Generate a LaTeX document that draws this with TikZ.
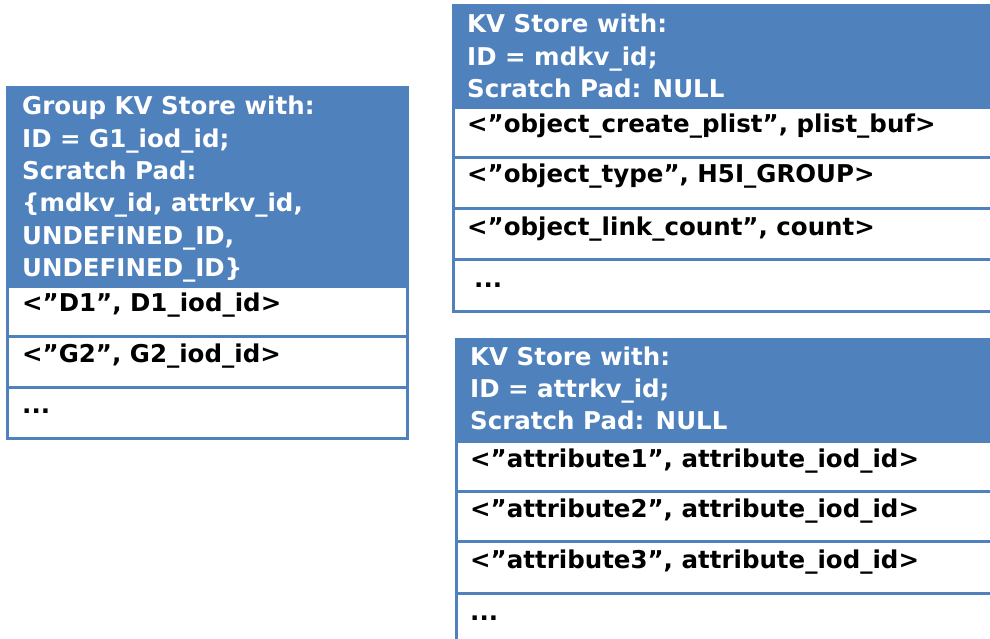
\documentclass[tikz,border=0pt]{standalone}
\usepackage{fontspec}
\setmainfont{DejaVu Sans}
\definecolor{kvblue}{HTML}{4F81BD}
\newcommand{\hlines}[1]{\vtop{#1}}
\tikzset{
  hdr/.style={draw=kvblue, fill=kvblue, line width=3pt, anchor=north west, inner sep=0pt},
  cell/.style={draw=kvblue, fill=white, line width=3pt, anchor=north west, inner sep=0pt},
  htxt/.style={anchor=base west, inner sep=0pt, text=white, font=\fontsize{24.5}{32.3}\selectfont\bfseries},
  ctxt/.style={anchor=base west, inner sep=0pt, text=black, font=\fontsize{24.5}{32.3}\selectfont\bfseries}
}
\begin{document}
\begin{tikzpicture}[x=1pt,y=-1pt]
\useasboundingbox (0,0) rectangle (990,639);
\clip (0,0) rectangle (990,639);
% Left group box
\node[hdr, minimum width=400pt, minimum height=199pt] (gh) at (6,86) {};
\node[cell, minimum width=400pt, minimum height=50pt] (gr1) at (6,285) {};
\node[cell, minimum width=400pt, minimum height=51pt] (gr2) at (6,335) {};
\node[cell, minimum width=400pt, minimum height=51pt] (gr3) at (6,386) {};
\node[htxt] (ght) at (22,115) {\hlines{\hbox{Group KV Store with:}\hbox{ID = G1\_iod\_id;}\hbox{Scratch Pad:}\hbox{\{mdkv\_id, attrkv\_id,}\hbox{UNDEFINED\_ID,}\hbox{UNDEFINED\_ID\}}}};
\node[ctxt] (gt1) at (22,311) {<”D1”, D1\_iod\_id>};
\node[ctxt] (gt2) at (22,362) {<”G2”, G2\_iod\_id>};
\node[ctxt] (gt3) at (22,413) {...};
% Right top box
\node[hdr, minimum width=560pt, minimum height=102pt] (mh) at (452,4) {};
\node[cell, minimum width=560pt, minimum height=50pt] (mr1) at (452,106) {};
\node[cell, minimum width=560pt, minimum height=51pt] (mr2) at (452,156) {};
\node[cell, minimum width=560pt, minimum height=51pt] (mr3) at (452,207) {};
\node[cell, minimum width=560pt, minimum height=52pt] (mr4) at (452,258) {};
\node[htxt] (mht) at (467,33) {\hlines{\hbox{KV Store with:}\hbox{ID = mdkv\_id;}\hbox{Scratch Pad: NULL}}};
\node[ctxt] (mt1) at (467,133) {<”object\_create\_plist”, plist\_buf>};
\node[ctxt] (mt2) at (467,183) {<”object\_type”, H5I\_GROUP>};
\node[ctxt] (mt3) at (467,235) {<”object\_link\_count”, count>};
\node[ctxt] (mt4) at (474,287) {...};
% Right bottom box
\node[hdr, minimum width=560pt, minimum height=102pt] (ah) at (455,338) {};
\node[cell, minimum width=560pt, minimum height=50pt] (ar1) at (455,440) {};
\node[cell, minimum width=560pt, minimum height=50pt] (ar2) at (455,490) {};
\node[cell, minimum width=560pt, minimum height=52pt] (ar3) at (455,540) {};
\node[cell, minimum width=560pt, minimum height=60pt] (ar4) at (455,592) {};
\node[htxt] (aht) at (470,365) {\hlines{\hbox{KV Store with:}\hbox{ID = attrkv\_id;}\hbox{Scratch Pad: NULL}}};
\node[ctxt] (at1) at (470,467) {<”attribute1”, attribute\_iod\_id>};
\node[ctxt] (at2) at (470,517) {<”attribute2”, attribute\_iod\_id>};
\node[ctxt] (at3) at (470,568) {<”attribute3”, attribute\_iod\_id>};
\node[ctxt] (at4) at (470,620) {...};
\end{tikzpicture}
\end{document}
